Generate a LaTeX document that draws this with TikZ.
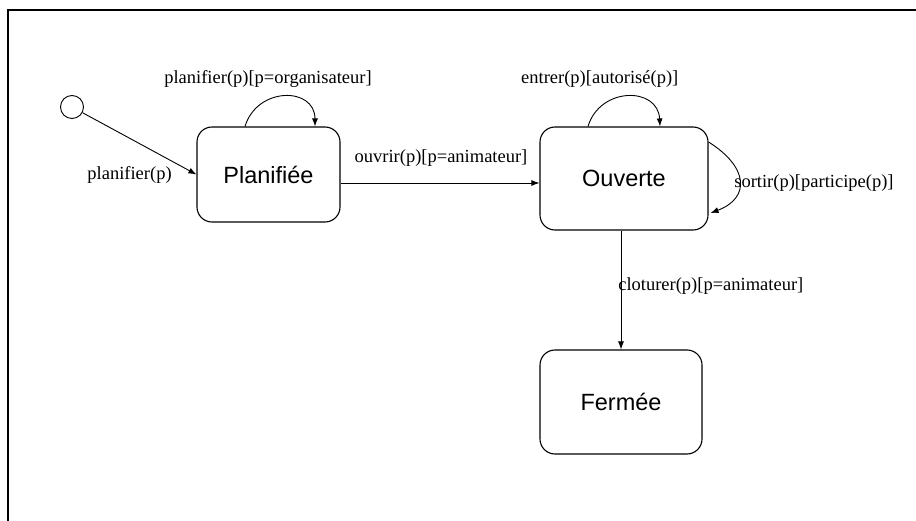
\documentclass[tikz,border=0pt]{standalone}
\usepackage{fontspec}
\setmainfont{Liberation Serif}
\newfontfamily\statefont{Liberation Sans}
\usetikzlibrary{arrows.meta,positioning}

\begin{document}
\begin{tikzpicture}[x=1pt, y=-1pt,
        state/.style={draw, line width=1.1pt, rounded corners=15pt, font=\statefont\fontsize{23.5}{26}\selectfont},
        trans/.style={line width=0.9pt, -{Latex[length=8pt,width=6pt]}},
        lbl/.style={font=\fontsize{18.5}{21}\selectfont}]
        \useasboundingbox (0,0) rectangle (916,521);

        % frame, only top and left visible
        \draw[line width=1.5pt] (8,521) -- (8,10) -- (916,10);

        \node[draw, circle, line width=0.9pt, minimum size=23pt, inner sep=0pt] (init) at (72,107) {};

        \node[state, minimum width=143pt, minimum height=95pt] (plan) at (268.5,174.5) {Planifiée};
        \node[state, minimum width=168pt, minimum height=103pt] (ouv) at (624,178.5) {Ouverte};
        \node[state, minimum width=162pt, minimum height=104pt] (ferm) at (621,402) {Fermée};

        \draw[trans] (init) -- (plan.west)
            node[lbl, at end, anchor=east, xshift=-21pt] {planifier(p)};

        \draw[trans] ([xshift=-23.5pt]plan.north) .. controls +(12,-40) and +(0,-40) .. ([xshift=46.5pt]plan.north)
            node[lbl, midway, xshift=-16.5pt, yshift=17pt] {planifier(p)[p=organisateur]};

        \draw[trans] ([yshift=-8.5pt]plan.east) -- ([yshift=-8.5pt]plan.east -| ouv.west)
            node[lbl, midway, xshift=1pt, yshift=25pt] {ouvrir(p)[p=animateur]};

        \draw[trans] ([xshift=-36pt]ouv.north) .. controls +(12,-40) and +(-2,-40) .. ([xshift=36pt]ouv.north)
            node[lbl, midway, xshift=-28pt, yshift=17pt] {entrer(p)[autorisé(p)]};

        \draw[trans] ([yshift=36.5pt]ouv.east) .. controls +(40,25) and +(40,-15) .. ([xshift=2pt,yshift=-34.5pt]ouv.east)
            node[lbl, midway, anchor=west, xshift=-9pt, yshift=-2pt] {sortir(p)[participe(p)]};

        \draw[trans] (ferm.north |- ouv.south) -- (ferm.north)
            node[lbl, midway, anchor=west, xshift=-6.5pt, yshift=4pt] {cloturer(p)[p=animateur]};
\end{tikzpicture}
\end{document}
